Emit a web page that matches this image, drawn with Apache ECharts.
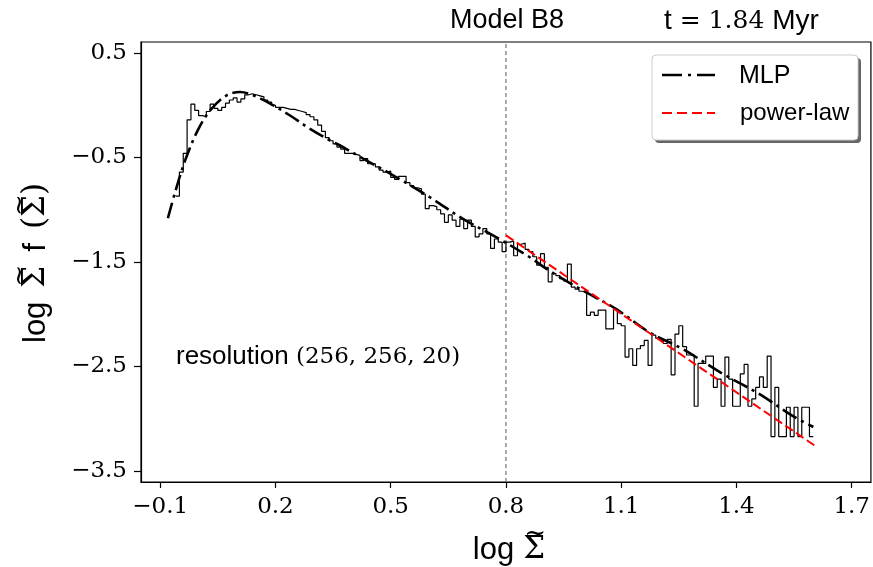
<!DOCTYPE html>
<html>
<head>
<meta charset="utf-8">
<script src="https://cdn.jsdelivr.net/npm/echarts@6/dist/echarts.min.js"></script>
<style>html,body{margin:0;padding:0;background:#fff}#c{width:873px;height:567px}</style>
</head>
<body>
<div id="c"></div>
<script>
// ---- data ----
const xTicks = [-0.1, 0.2, 0.5, 0.8, 1.1, 1.4, 1.7];
const yTicks = [0.5, -0.5, -1.5, -2.5, -3.5];
const histStart = -0.06;
const histBin = 0.01;
const histValues = [
 -0.87,-0.64,-0.46,-0.14,0.01,-0.05,-0.10,-0.11,-0.06,0.01,
 -0.03,-0.05,-0.02,0.02,0.05,0.07,0.03,0.06,0.10,0.11,
 0.10,0.09,0.08,0.05,0.03,0.00,-0.02,-0.02,-0.03,-0.04,
 -0.04,-0.05,-0.06,-0.07,-0.09,-0.11,-0.14,-0.19,-0.25,-0.31,
 -0.34,-0.37,-0.40,-0.42,-0.46,-0.46,-0.47,-0.48,-0.53,-0.51,
 -0.56,-0.56,-0.59,-0.62,-0.64,-0.63,-0.69,-0.71,-0.68,-0.68,
 -0.74,-0.77,-0.79,-0.80,-0.85,-0.99,-0.96,-0.97,-1.00,-1.04,
 -1.12,-1.05,-1.10,-1.16,-1.09,-1.18,-1.10,-1.16,-1.26,-1.23,
 -1.18,-1.23,-1.37,-1.28,-1.31,-1.40,-1.31,-1.30,-1.44,-1.33,
 -1.32,-1.38,-1.40,-1.45,-1.53,-1.42,-1.55,-1.69,-1.61,-1.63,
 -1.66,-1.68,-1.52,-1.74,-1.76,-1.78,-1.79,-2.01,-1.98,-2.01,
 -1.96,-1.96,-2.14,-2.14,-1.95,-2.09,-2.11,-2.41,-2.33,-2.49,
 -2.33,-2.30,-2.25,-2.49,-2.20,-2.23,-2.25,-2.28,-2.24,-2.58,
 -2.19,-2.11,-2.31,-2.39,-2.39,-2.88,-2.47,-2.47,-2.40,-2.40,
 -2.70,-2.62,-2.88,-2.41,-2.62,-2.88,-2.88,-2.57,-2.48,-2.88,
 -2.81,-2.70,-2.60,-2.70,-2.40,-3.17,-2.70,-3.17,-3.17,-2.89,
 -3.17,-2.89,-3.17,-2.89,-2.89,-3.17
];
const mlpX = [-0.08,-0.061,-0.035,0.0,0.034,0.073,0.108,0.142,0.186,0.237,0.289,0.341,0.367,0.428,0.514,0.601,0.687,0.774,0.861,0.911,0.999,1.085,1.172,1.258,1.371,1.458,1.544,1.60];
const mlpY = [-1.08,-0.83,-0.527,-0.223,-0.032,0.095,0.127,0.095,0.016,-0.096,-0.224,-0.335,-0.383,-0.51,-0.687,-0.878,-1.085,-1.261,-1.452,-1.579,-1.771,-1.946,-2.17,-2.329,-2.584,-2.76,-2.967,-3.079];
const powerX = [0.8, 1.605];
const powerY = [-1.245, -3.26];
const vlineX = 0.8;
const xRange = [-0.15, 1.75];
const yRange = [-3.605, 0.605];

// ---- build ----
const histData = histValues.map((v, i) => [histStart + i * histBin, v]);
histData.push([histStart + histValues.length * histBin, histValues[histValues.length - 1]]);
const mlpData = mlpX.map((x, i) => [x, mlpY[i]]);
const powerData = powerX.map((x, i) => [x, powerY[i]]);
const fmt = v => (v < 0 ? '\u2212' + Math.abs(v).toFixed(1) : v.toFixed(1));

const SERIF = '"DejaVu Serif", serif';
const SANS = '"Liberation Sans", sans-serif';
const tickLabel = {fontFamily: SERIF, fontSize: 23, color: '#000'};

// text label built from pieces, with tildes drawn over Sigma
const mctx = document.createElement('canvas').getContext('2d');
function textWidth(t, font) { mctx.font = font; return mctx.measureText(t).width; }
function buildLabel(cx, cy, rotation, pieces) {
  const items = pieces.map(p => {
    const font = p.size + 'px ' + (p.serif ? SERIF : SANS);
    return {p, font, w: textWidth(p.t, font) + (p.gap || 0)};
  });
  const total = items.reduce((a, b) => a + b.w, 0);
  let x = -total / 2;
  const children = [];
  items.forEach(it => {
    children.push({type: 'text', x: x, y: 0, style: {text: it.p.t, font: it.font, fill: '#000', align: 'left', verticalAlign: 'middle'}});
    if (it.p.tilde) {
      const gw = textWidth(it.p.t, it.font);
      children.push({type: 'text', x: x + gw / 2 + 1, y: -0.5 * it.p.size, style: {text: '~', font: Math.round(it.p.size * 0.85) + 'px ' + SERIF, fill: '#000', align: 'center', verticalAlign: 'middle'}});
    }
    x += it.w;
  });
  return {type: 'group', x: cx, y: cy, rotation: rotation, children};
}

const LS = 31;
const yLabel = buildLabel(36, 263, Math.PI / 2, [
  {t: 'log', size: LS, gap: 14},
  {t: '\u03A3', size: LS, serif: true, tilde: true, gap: 14},
  {t: 'f', size: LS, gap: 14},
  {t: '(', size: LS, serif: true},
  {t: '\u03A3', size: LS, serif: true, tilde: true},
  {t: ')', size: LS, serif: true}
]);
const xLabel = buildLabel(509, 550, 0, [
  {t: 'log', size: LS, gap: 9},
  {t: '\u03A3', size: LS, serif: true, tilde: true}
]);

const chart = echarts.init(document.getElementById('c'), null, {renderer: 'canvas'});
chart.setOption({
  animation: false,
  backgroundColor: '#fff',
  grid: {left: 141, right: 1, top: 42, bottom: 85, show: true, borderColor: '#000', borderWidth: 1.2},
  xAxis: {
    type: 'value', min: xRange[0], max: xRange[1],
    axisLine: {show: true, onZero: false, lineStyle: {color: '#000', width: 1.2}},
    axisTick: {show: true, inside: false, length: 6, customValues: xTicks, lineStyle: {color: '#000', width: 1.2}},
    axisLabel: {show: true, margin: 14, customValues: xTicks, formatter: fmt, ...tickLabel},
    splitLine: {show: false}
  },
  yAxis: {
    type: 'value', min: yRange[0], max: yRange[1],
    axisLine: {show: true, onZero: false, lineStyle: {color: '#000', width: 1.2}},
    axisTick: {show: true, inside: false, length: 7, customValues: yTicks, lineStyle: {color: '#000', width: 1.2}},
    axisLabel: {show: true, margin: 14, customValues: yTicks, formatter: fmt, ...tickLabel},
    splitLine: {show: false}
  },
  series: [
    {type: 'line', name: 'hist', data: histData, step: 'end', symbol: 'none',
     lineStyle: {color: '#000', width: 1.2}, z: 2},
    {type: 'line', name: 'MLP', data: mlpData, smooth: 0.35, symbol: 'none',
     lineStyle: {color: '#000', width: 2.6, type: [16, 5, 3, 5], cap: 'butt'}, z: 3},
    {type: 'line', name: 'power-law', data: powerData, symbol: 'none',
     lineStyle: {color: '#ff0000', width: 2, type: [9, 4]}, z: 4},
    {type: 'line', name: 'vline', data: [[vlineX, yRange[0]], [vlineX, yRange[1]]], symbol: 'none',
     lineStyle: {color: '#555', width: 1, type: [4, 3]}, z: 1}
  ],
  graphic: [
    {type: 'text', x: 507, y: 21, style: {text: 'Model B8', font: '27px ' + SANS, fill: '#000', align: 'center', verticalAlign: 'middle'}},
    {type: 'text', x: 664, y: 21, style: {
      text: '{s|t}{m| = 1.84 }{s|Myr}', align: 'left', verticalAlign: 'middle',
      rich: {s: {font: '28px ' + SANS, fill: '#000'}, m: {font: '25px ' + SERIF, fill: '#000'}}}},
    {type: 'text', x: 176, y: 357, style: {
      text: '{s|resolution }{m|(256, 256, 20)}', align: 'left', verticalAlign: 'middle',
      rich: {s: {font: '26px ' + SANS, fill: '#000'}, m: {font: '23px ' + SERIF, fill: '#000'}}}},
    yLabel,
    xLabel,
    // legend
    {type: 'rect', z: 100, shape: {x: 655, y: 58, width: 206, height: 85, r: 4}, style: {fill: '#666'}},
    {type: 'rect', z: 101, shape: {x: 652, y: 55, width: 206, height: 85, r: 4}, style: {fill: '#fff', stroke: '#ccc', lineWidth: 1}},
    {type: 'line', z: 102, shape: {x1: 662, y1: 75, x2: 715, y2: 75}, style: {stroke: '#000', lineWidth: 2.6, lineDash: [20, 6, 3, 6]}},
    {type: 'text', z: 102, x: 739, y: 76, style: {text: 'MLP', font: '25px ' + SANS, fill: '#000', align: 'left', verticalAlign: 'middle'}},
    {type: 'line', z: 102, shape: {x1: 662, y1: 113, x2: 715, y2: 113}, style: {stroke: '#ff0000', lineWidth: 2, lineDash: [10, 5]}},
    {type: 'text', z: 102, x: 740, y: 113, style: {text: 'power-law', font: '24px ' + SANS, fill: '#000', align: 'left', verticalAlign: 'middle'}}
  ]
});
</script>
</body>
</html>
